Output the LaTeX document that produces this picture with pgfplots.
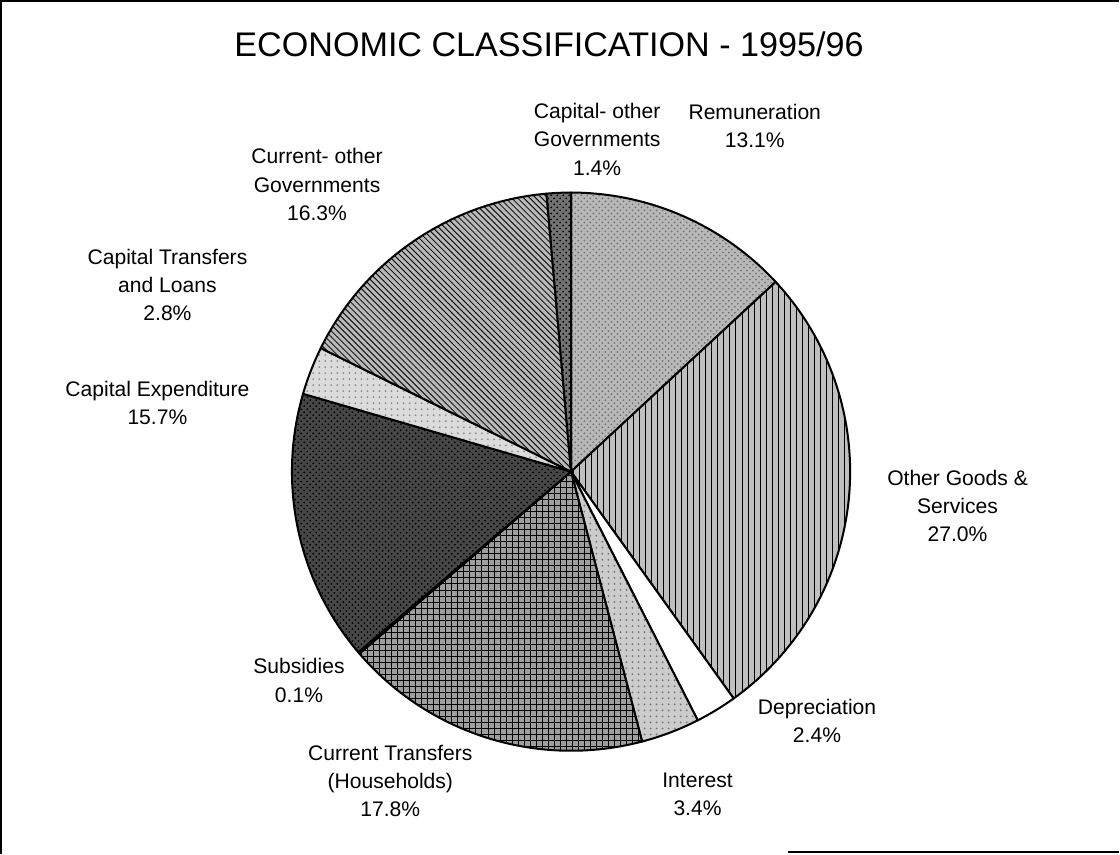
\documentclass[border=0pt]{standalone}
\usepackage{pgfplots}
\pgfplotsset{compat=1.18}
\usepackage{fontspec}
\setmainfont{Liberation Sans}
\usetikzlibrary{patterns}
% #1 cumulative start (percent), #2 share (percent), #3 fill style
\newcommand{\slice}[3]{%
  \fill[#3] (axis cs:574,492) -- ++({90-3.6*(#1)}:139pt)
     arc[start angle={90-3.6*(#1)}, end angle={90-3.6*((#1)+(#2))}, radius=139pt] -- cycle;
  \draw[line width=1pt,line join=round] (axis cs:574,492) -- ++({90-3.6*(#1)}:139pt)
     arc[start angle={90-3.6*(#1)}, end angle={90-3.6*((#1)+(#2))}, radius=139pt] -- cycle;}
\tikzset{lab/.style={font=\fontsize{10.5}{14}\selectfont, align=center, inner sep=0pt}}
\begin{document}
\begin{tikzpicture}
\begin{axis}[
  width=560pt, height=436.5pt, scale only axis,
  xmin=0, xmax=1120, ymin=0, ymax=873, y dir=reverse,
  axis lines=none, clip=false,
]
% frame
\draw[line width=0.8pt] (axis cs:6,873) -- (axis cs:6,23) -- (axis cs:1120,23);
\draw[line width=0.8pt] (axis cs:790,871) -- (axis cs:1120,871);
% slices: cumulative start, share
\slice{0}{13.1}{fill=black!28, postaction={pattern=crosshatch dots, pattern color=black!55}}
\slice{13.1}{27.0}{fill=black!25, postaction={pattern=vertical lines}}
\slice{40.1}{2.4}{fill=white}
\slice{42.5}{3.4}{fill=black!20, postaction={pattern=dots, pattern color=black!55}}
\slice{45.9}{17.8}{fill=black!38, postaction={pattern=grid}}
\slice{63.7}{0.1}{fill=black!50}
\slice{63.8}{15.7}{fill=black!72, postaction={pattern=crosshatch dots, pattern color=black}}
\slice{79.5}{2.8}{fill=black!14, postaction={pattern=dots, pattern color=black!45}}
\slice{82.3}{16.3}{fill=black!28, postaction={pattern=north west lines}}
\slice{98.6}{1.4}{fill=black!55, postaction={pattern=crosshatch dots}}
% title
\node[font=\fontsize{17}{21}\selectfont] at (axis cs:552,66) {ECONOMIC CLASSIFICATION - 1995/96};
% labels
\node[lab] at (axis cs:600,161) {Capital- other\\Governments\\1.4\%};
\node[lab] at (axis cs:757,148) {Remuneration\\13.1\%};
\node[lab] at (axis cs:321,206) {Current- other\\Governments\\16.3\%};
\node[lab] at (axis cs:172,306) {Capital Transfers\\and Loans\\2.8\%};
\node[lab] at (axis cs:162,424) {Capital Expenditure\\15.7\%};
\node[lab] at (axis cs:959,526) {Other Goods \&\\Services\\27.0\%};
\node[lab] at (axis cs:819,740) {Depreciation\\2.4\%};
\node[lab] at (axis cs:303,700) {Subsidies\\0.1\%};
\node[lab] at (axis cs:394,800) {Current Transfers\\(Households)\\17.8\%};
\node[lab] at (axis cs:700,813) {Interest\\3.4\%};
\end{axis}
\end{tikzpicture}
\end{document}
